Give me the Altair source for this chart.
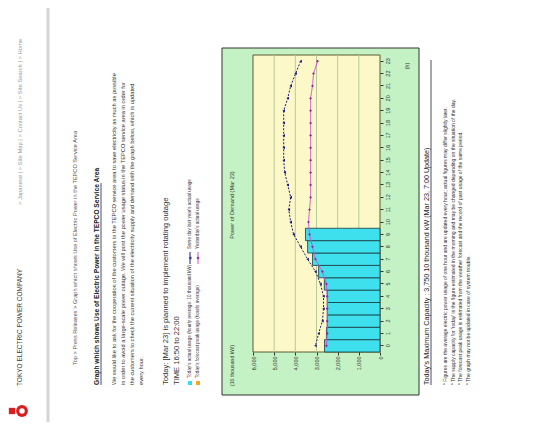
import altair as alt
import pandas as pd

# ---------------- data ----------------
hours = list(range(24))
bar_hours = list(range(10))
today_actual = [2620, 2530, 2490, 2490, 2490, 2630, 2900, 3190, 3420, 3520]
last_year = [3050, 2900, 2720, 2670, 2670, 2810, 3050, 3420, 3750, 4080, 4220, 4310,
             4220, 4360, 4500, 4550, 4550, 4550, 4550, 4550, 4360, 4220, 3990, 3750]
yesterday = [2530, 2490, 2490, 2490, 2490, 2530, 2720, 3050, 3190, 3330, 3380, 3330,
             3280, 3280, 3280, 3280, 3280, 3280, 3280, 3280, 3280, 3190, 3140, 2950]
value_ticks = [0, 1000, 2000, 3000, 4000, 5000, 6000]
grid_values = [1000, 2000, 3000, 4000, 5000]

FONT = "Liberation Sans"
OX, OY = 253, 55          # page position of the plot origin
W, H = 127, 297           # plot size

bars_df = pd.DataFrame({"hour": bar_hours, "value": today_actual})
lines_df = pd.DataFrame({
    "hour": hours * 2,
    "value": last_year + yesterday,
    "series": ["Same day last year"] * 24 + ["Yesterday"] * 24,
})
grid_df = pd.DataFrame({"value": grid_values})
one = pd.DataFrame({"k": [0]})

x_scale = alt.Scale(domain=[0, 6000], reverse=True, nice=False)
y_scale = alt.Scale(domain=hours[::-1], paddingInner=0, paddingOuter=0)

x_axis = alt.Axis(values=value_ticks, format=",d", labelAngle=270,
                  labelAlign="right", labelBaseline="middle",
                  labelOverlap=False, labelPadding=1, labelFlush=False,
                  title=None, grid=False, tickSize=3, labelFontSize=5.5,
                  labelFont=FONT, labelColor="#333", tickColor="#333",
                  domain=False, zindex=2)
y_axis = alt.Axis(orient="right", labelAngle=270, labelAlign="center",
                  labelBaseline="top", title=None, tickSize=3,
                  labelOverlap=False, labelPadding=2, grid=False,
                  labelFontSize=5.5, labelFont=FONT, labelColor="#333",
                  tickColor="#333", domain=False, zindex=2)
x_enc = alt.X("value:Q", scale=x_scale, axis=x_axis)
y_enc = alt.Y("hour:O", scale=y_scale, axis=y_axis)


def px(ix, iy):
    return dict(x=alt.value(ix - OX), y=alt.value(iy - OY))


def txt(s, ix, iy, size=6.0, color="#333333", weight="normal", align="left"):
    return alt.Chart(one).mark_text(
        text=s, angle=270, align=align, baseline="middle", fontSize=size,
        color=color, fontWeight=weight, font=FONT
    ).encode(**px(ix, iy))


def vline(ix, iy1, iy2, color="#333333", width=0.8):
    return alt.Chart(one).mark_rule(color=color, strokeWidth=width).encode(
        x=alt.value(ix - OX), y=alt.value(iy1 - OY), y2=alt.value(iy2 - OY))


def box(ix1, iy1, ix2, iy2, fill, stroke=None, sw=1):
    kw = dict(fill=fill)
    if stroke:
        kw.update(stroke=stroke, strokeWidth=sw)
    return alt.Chart(one).mark_rect(**kw).encode(
        x=alt.value(ix1 - OX), x2=alt.value(ix2 - OX),
        y=alt.value(iy1 - OY), y2=alt.value(iy2 - OY))


def sym(ix, iy, shape, color, size=14):
    return alt.Chart(one).mark_point(shape=shape, filled=True, color=color,
                                     size=size, opacity=1).encode(**px(ix, iy))


layers = []

# ---------- page header ----------
layers.append(sym(12, 411, "square", "#d81e1e", 40))
layers.append(sym(22, 411, "circle", "#d81e1e", 140))
layers.append(sym(22, 411, "circle", "#ffffff", 30))
layers.append(txt("TOKYO ELECTRIC POWER COMPANY", 20, 386, 6.5, "#444444"))
layers.append(txt("> Japanese   |   > Site Map   |   > Contact Us   |   > Site Search   |   > Home",
                  20, 205, 5.8, "#9a9a9a"))
layers.append(vline(48, 0, 430, "#d4d4d4", 3))

# ---------- breadcrumb / title / intro ----------
layers.append(txt("Top  >  Press Releases  >  Graph which shows Use of Electric Power in the TEPCO Service Area",
                  75, 365, 5.6, "#555555"))
layers.append(txt("Graph which shows Use of Electric Power in the TEPCO Service Area", 97, 385, 6.6, "#222222", "bold"))
layers.append(vline(101, 385, 183, "#222222", 0.8))
intro = [
    "We would like to ask for the cooperation of the customers in the TEPCO service area to save electricity as much as possible",
    "in order to avoid a large-scale power outage. We will post the power usage status in the TEPCO service area in order for",
    "the customers to check the current situation of the electricity supply and demand with the graph below, which is updated",
    "every hour.",
]
for i, line in enumerate(intro):
    layers.append(txt(line, 114 + 9 * i, 385, 5.7, "#333333"))

layers.append(txt("Today: [Mar 23] is planned to implement rotating outage", 166, 385, 7.6, "#333333"))
layers.append(txt("TIME 16:50 to 22:00", 177, 385, 7.6, "#333333"))

# ---------- legend ----------
layers.append(sym(190, 383, "square", "#33ddee", 16))
layers.append(txt("Today's actual usage (hourly average: 10 thousand kW)", 190, 378, 4.6))
layers.append(sym(198, 383, "square", "#f5a623", 16))
layers.append(txt("Today's forecast peak usage (hourly average)", 198, 378, 4.6))
layers.append(vline(190, 264, 252, "#1c1c80", 1))
layers.append(sym(190, 258, "triangle-left", "#1c1c80", 10))
layers.append(txt("Same day last year's actual usage", 190, 249, 4.6))
layers.append(vline(198, 264, 252, "#d050d0", 1))
layers.append(sym(198, 258, "diamond", "#8a2a9a", 10))
layers.append(txt("Yesterday's actual usage", 198, 249, 4.6))

# ---------- chart panel ----------
layers.append(box(222, 48, 419, 395, "#c4f2c4", "#333333", 1))
layers.append(txt("Power of Demand (Mar 23)", 232, 205, 5.6, "#333333", align="center"))
layers.append(txt("(10 thousand kW)", 232, 386, 5.2, "#333333"))
layers.append(txt("(h)", 407, 66, 5.2, "#333333", align="center"))
layers.append(alt.Chart(one).mark_rect(fill="#fdf8c8", stroke="#5a5a30", strokeWidth=1).encode(
    x=alt.value(0), x2=alt.value(W), y=alt.value(0), y2=alt.value(H)))

grid = alt.Chart(grid_df).mark_rule(color="#b9c99a", strokeWidth=1).encode(x=x_enc)
layers.append(grid)

bars = alt.Chart(bars_df).mark_bar(color="#3ee0ee", stroke="#16393d", strokeWidth=0.8).encode(
    x=x_enc, y=y_enc)
layers.append(bars)

series_colors = alt.Scale(domain=["Same day last year", "Yesterday"],
                          range=["#1c1c80", "#d050d0"])
lines = alt.Chart(lines_df).mark_line(strokeWidth=1).encode(
    x=x_enc,
    y=y_enc,
    color=alt.Color("series:N", scale=series_colors, legend=None),
    strokeDash=alt.StrokeDash("series:N",
                              scale=alt.Scale(domain=["Same day last year", "Yesterday"],
                                              range=[[2, 1.5], [1, 0]]),
                              legend=None),
)
layers.append(lines)

pts_last = alt.Chart(lines_df[lines_df.series == "Same day last year"]).mark_point(
    shape="triangle-left", filled=True, size=9, color="#1c1c80", opacity=1).encode(
    x=x_enc, y=y_enc)
pts_yest = alt.Chart(lines_df[lines_df.series == "Yesterday"]).mark_point(
    shape="diamond", filled=True, size=8, color="#8a2a9a", opacity=1).encode(
    x=x_enc, y=y_enc)
layers += [pts_last, pts_yest]

# ---------- below panel ----------
layers.append(txt("Today's Maximum Capacity : 3,750 10 thousand kW (Mar 23, 7:00 Update)", 427, 385, 7.2, "#222222"))
layers.append(vline(431, 385, 60, "#222222", 0.8))
notes = [
    "* Figures are the average electric power usage of one hour and are updated every hour; actual figures may differ slightly later.",
    "* The supply capacity for 'today' is the figure estimated in the morning and may be changed depending on the situation of the day.",
    "* The forecast peak usage is estimated from the weather forecast and the record of past usage of the same period.",
    "* The graph may not be updated in case of system trouble.",
]
for i, line in enumerate(notes):
    layers.append(txt(line, 445 + 7.5 * i, 385, 5.0, "#333333"))

chart = alt.layer(*layers).properties(
    width=W, height=H,
    autosize=alt.AutoSizeParams(type="none"),
    padding={"left": OX - 8, "top": OY - 8, "right": 523 - (OX - 8) - W, "bottom": 414 - (OY - 8) - H},
    background="white",
).configure_view(stroke=None)

chart.save("out.html", embed_options={"renderer": "svg", "actions": False})
